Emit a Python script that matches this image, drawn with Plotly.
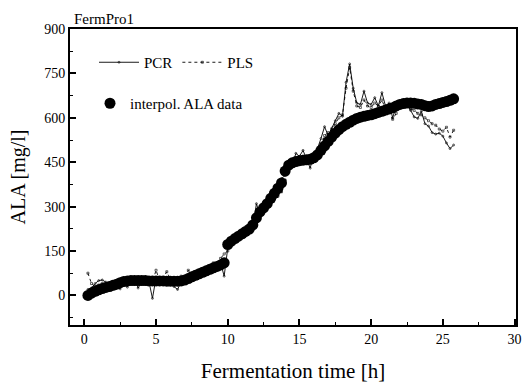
import plotly.graph_objects as go

# time grid [h]
time_h = [0.25, 0.5, 0.75, 1.0, 1.25, 1.5, 1.75, 2.0, 2.25, 2.5, 2.75, 3.0, 3.25, 3.5, 3.75, 4.0,
          4.25, 4.5, 4.75, 5.0, 5.25, 5.5, 5.75, 6.0, 6.25, 6.5, 6.75, 7.0, 7.25, 7.5, 7.75, 8.0,
          8.25, 8.5, 8.75, 9.0, 9.25, 9.5, 9.75, 10.0, 10.25, 10.5, 10.75, 11.0, 11.25, 11.5, 11.75,
          12.0, 12.25, 12.5, 12.75, 13.0, 13.25, 13.5, 13.75, 14.0, 14.25, 14.5, 14.75, 15.0, 15.25,
          15.5, 15.75, 16.0, 16.25, 16.5, 16.75, 17.0, 17.25, 17.5, 17.75, 18.0, 18.25, 18.5, 18.75,
          19.0, 19.25, 19.5, 19.75, 20.0, 20.25, 20.5, 20.75, 21.0, 21.25, 21.5, 21.75, 22.0, 22.25,
          22.5, 22.75, 23.0, 23.25, 23.5, 23.75, 24.0, 24.25, 24.5, 24.75, 25.0, 25.25, 25.5, 25.75]

ala_interp = [0, 8, 14, 19, 23, 27, 30, 34, 38, 43, 47, 49, 50, 50, 50, 50,
              50, 49, 49, 49, 49, 49, 48, 48, 48, 48, 49, 52, 57, 63, 68, 73,
              78, 83, 88, 93, 98, 103, 110, 172, 183, 192, 200, 208, 216, 224, 238,
              262, 282, 296, 310, 328, 345, 362, 380, 420, 440, 448, 452, 455, 457,
              458, 460, 465, 475, 490, 505, 520, 535, 548, 560, 570, 578, 585, 592,
              598, 602, 605, 608, 610, 614, 618, 622, 626, 630, 634, 640, 645, 648,
              650, 650, 649, 647, 645, 641, 638, 640, 645, 648, 652, 655, 659, 664]

pcr = [20, 25, 40, 50, 52, 45, 35, 40, 30, 22, 45, 28, 50, 60, 25, 45,
       55, 48, -10, 60, 45, 55, 50, 45, 30, 20, 45, 55, 60, 70, 65, 85,
       75, 90, 85, 100, 95, 110, 65, 160, 195, 185, 205, 215, 210, 235, 230,
       310, 270, 300, 320, 335, 350, 372, 395, 405, 455, 440, 480, 470, 490,
       460, 430, 480, 495, 530, 570, 540, 565, 590, 615, 605, 720, 782, 700,
       650, 645, 690, 650, 645, 668, 640, 685, 640, 650, 600, 640, 645, 650,
       648, 625, 603, 598, 622, 580, 572, 550, 545, 548, 538, 515, 496, 508]

pls = [75, 40, 30, 35, 40, 38, 40, 42, 48, 35, 50, 45, 55, 48, 52, 50,
       58, 52, 45, 85, 50, 60, 80, 55, 50, 45, 65, 60, 85, 70, 75, 80,
       90, 85, 95, 110, 100, 125, 140, 150, 180, 190, 198, 205, 220, 225, 240,
       265, 270, 285, 300, 310, 330, 335, 350, 390, 430, 445, 455, 460, 470,
       455, 465, 470, 490, 510, 540, 550, 560, 580, 600, 610, 700, 770, 690,
       640, 635, 660, 640, 635, 650, 640, 660, 630, 620, 595, 615, 640, 645,
       640, 630, 625, 615, 610, 600, 590, 580, 575, 562, 555, 568, 535, 558]

x_ticks = [0, 5, 10, 15, 20, 25, 30]
y_ticks = [0, 150, 300, 450, 600, 750, 900]

FONT = "Liberation Serif"

fig = go.Figure()
fig.add_trace(go.Scatter(
    x=time_h, y=pcr, name="PCR", mode="lines+markers",
    line=dict(color="black", width=0.9),
    marker=dict(symbol="circle-open", size=2, color="black", line=dict(width=0.6)),
    legend="legend",
))
fig.add_trace(go.Scatter(
    x=time_h, y=pls, name="PLS", mode="lines+markers",
    line=dict(color="black", width=0.9, dash="dot"),
    marker=dict(symbol="square-open", size=2, color="black", line=dict(width=0.6)),
    legend="legend",
))
fig.add_trace(go.Scatter(
    x=time_h, y=ala_interp, name="interpol. ALA data", mode="markers",
    marker=dict(symbol="circle", size=11, color="black"),
    legend="legend2",
))

axis_common = dict(
    showline=True, linecolor="black", linewidth=2, mirror=True,
    ticks="inside", ticklen=6, tickwidth=1.5, tickcolor="black",
    showgrid=False, zeroline=False, automargin=False,
    tickfont=dict(family=FONT, size=14, color="black"),
)

fig.update_layout(
    width=523, height=383,
    margin=dict(l=70, r=7, t=29, b=58),
    paper_bgcolor="white", plot_bgcolor="white",
    font=dict(family=FONT, color="black"),
    xaxis=dict(
        **axis_common, range=[-1, 30.1], tickvals=x_ticks,
        minor=dict(ticks="inside", ticklen=3, tickwidth=1, tickcolor="black", dtick=2.5, tick0=0),
        title=dict(text="Fermentation time [h]", font=dict(family=FONT, size=21), standoff=25),
    ),
    yaxis=dict(
        **axis_common, range=[-100, 900], tickvals=y_ticks,
        minor=dict(ticks="inside", ticklen=3, tickwidth=1, tickcolor="black", dtick=75, tick0=0),
        title=dict(text="ALA [mg/l]", font=dict(family=FONT, size=20), standoff=13),
    ),
    legend=dict(
        orientation="h", x=(94 - 70) / 446, y=(325 - 46) / 296, xanchor="left", yanchor="top",
        bgcolor="rgba(0,0,0,0)", font=dict(family=FONT, size=15),
        itemwidth=40, tracegroupgap=0,
    ),
    legend2=dict(
        orientation="h", x=(90 - 70) / 446, y=(325 - 87) / 296, xanchor="left", yanchor="top",
        bgcolor="rgba(0,0,0,0)", font=dict(family=FONT, size=15),
    ),
    annotations=[dict(
        text="FermPro1", xref="paper", yref="paper", x=0.005, y=1.0,
        xanchor="left", yanchor="bottom", showarrow=False,
        font=dict(family=FONT, size=15, color="black"),
    )],
)

fig.write_html("out.html")
